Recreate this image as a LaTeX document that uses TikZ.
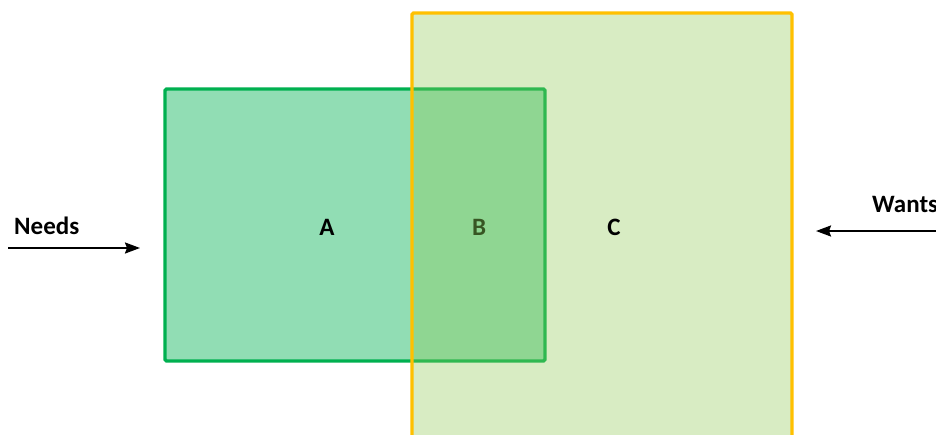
\documentclass[tikz,border=0pt]{standalone}
\usepackage{fontspec}
\setmainfont{Carlito}
\usetikzlibrary{arrows.meta}
\definecolor{grn}{HTML}{00B050}
\definecolor{lgrn}{HTML}{8CC850}
\definecolor{ylw}{HTML}{FFC000}
\definecolor{dkg}{HTML}{375623}
\begin{document}
\begin{tikzpicture}[x=1pt,y=-1pt,
  lbl/.style={font=\fontsize{25}{29}\selectfont\bfseries, inner sep=0pt},
  arr/.style={line width=2.1pt, -{Stealth[length=15pt,width=11pt,inset=2pt]}}]
\useasboundingbox (0,0) rectangle (936,434);
% green rectangle (Needs)
\draw[grn, line width=3.3pt, fill=grn, fill opacity=0.43, draw opacity=1, rounded corners=1.5pt]
  (165,89) rectangle (545,361);
% yellow rectangle (Wants)
\draw[ylw, line width=3.3pt, fill=lgrn, fill opacity=0.34, draw opacity=1, rounded corners=1.5pt]
  (412,13) rectangle (792,460);
\node[lbl] (a) at (327,227) {A};
\node[lbl, text=dkg] (b) at (479,227) {B};
\node[lbl] (c) at (614,227) {C};
\node[lbl, anchor=west] (needs) at (14,226) {Needs};
\node[lbl, anchor=west] (wants) at (872,204) {Wants};
\coordinate (n1) at (8,248);
\coordinate (n2) at (140,248);
\coordinate (w1) at (940,231);
\coordinate (w2) at (816,231);
\draw[arr] (n1) -- (n2);
\draw[arr] (w1) -- (w2);
\end{tikzpicture}
\end{document}
